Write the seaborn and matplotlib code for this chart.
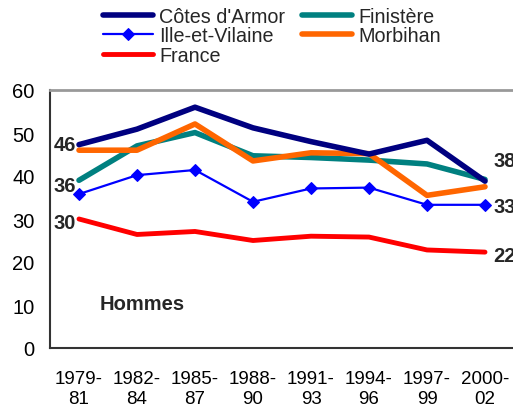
import matplotlib
matplotlib.use("Agg")
import matplotlib.pyplot as plt
import seaborn as sns
import pandas as pd

periods = ["1979-\n81", "1982-\n84", "1985-\n87", "1988-\n90", "1991-\n93", "1994-\n96", "1997-\n99", "2000-\n02"]
cotes = [47.3, 50.9, 56.0, 51.2, 48.0, 45.1, 48.3, 38.8]
finistere = [39.0, 47.0, 50.1, 44.7, 44.3, 43.7, 42.8, 39.2]
ille = [35.8, 40.2, 41.4, 34.0, 37.1, 37.3, 33.3, 33.3]
morbihan = [46.0, 46.0, 52.1, 43.5, 45.4, 45.2, 35.5, 37.5]
france = [30.0, 26.4, 27.1, 25.0, 26.0, 25.8, 22.8, 22.3]

left_labels = ["46", "36", "30"]
left_label_y = [47.4, 37.9, 29.1]
right_labels = ["38", "33", "22"]
right_label_y = [43.5, 32.8, 21.4]

series = {
    "Côtes d'Armor": cotes,
    "Finistère": finistere,
    "Ille-et-Vilaine": ille,
    "Morbihan": morbihan,
    "France": france,
}
styles = {
    "Côtes d'Armor": dict(color="#000080", lw=4.0, marker=None),
    "Finistère": dict(color="#008080", lw=4.0, marker=None),
    "Ille-et-Vilaine": dict(color="#0000FF", lw=1.6, marker="D"),
    "Morbihan": dict(color="#FF6600", lw=4.0, marker=None),
    "France": dict(color="#FF0000", lw=3.5, marker=None),
}

rows = []
for name, vals in series.items():
    for i, v in enumerate(vals):
        rows.append({"serie": name, "x": i, "val": v})
df = pd.DataFrame(rows)

sns.set_style("white")
plt.rcParams["font.family"] = ["Liberation Sans", "DejaVu Sans"]

fig = plt.figure(figsize=(5.13, 4.10), dpi=100)
ax = fig.add_axes([50 / 513, (410 - 349) / 410, 464 / 513, 258 / 410])

handles = {}
for name in ["France", "Ille-et-Vilaine", "Finistère", "Morbihan", "Côtes d'Armor"]:
    st = styles[name]
    sub = df[df.serie == name]
    sns.lineplot(data=sub, x="x", y="val", ax=ax, color=st["color"], linewidth=st["lw"],
                 marker=st["marker"], markersize=6.5 if st["marker"] else 0,
                 markeredgecolor=st["color"], label=name, legend=False)
    handles[name] = ax.lines[-1]

ax.set_xlim(-0.5, len(periods) - 0.5)
ax.set_ylim(0, 60)
ax.set_yticks(range(0, 61, 10))
ax.set_xticks(range(len(periods)))
ax.set_xticklabels(periods, linespacing=1.25)
ax.set_xticks([i - 0.5 for i in range(len(periods) + 1)], minor=True)
ax.tick_params(axis="x", which="major", length=0, pad=16, labelsize=13.5)
ax.tick_params(axis="x", which="minor", length=5, width=1.2, color="#333333", direction="out")
ax.tick_params(axis="y", length=5, width=1.2, color="#333333", direction="out", labelsize=14.5, pad=6)
ax.tick_params(axis="both", colors="#333333", labelcolor="black")
ax.set_xlabel("")
ax.set_ylabel("")
for s in ["left", "bottom"]:
    ax.spines[s].set_color("#333333")
    ax.spines[s].set_linewidth(1.5)
ax.spines["top"].set_color("#999999")
ax.spines["top"].set_linewidth(2)
ax.spines["right"].set_visible(False)

for lab, y in zip(left_labels, left_label_y):
    ax.text(-0.05, y, lab, ha="right", va="center", fontsize=14.5, fontweight="bold")
for lab, y in zip(right_labels, right_label_y):
    ax.text(7.15, y, lab, ha="left", va="center", fontsize=14.5, fontweight="bold", clip_on=False)

ax.text(0.36, 10.3, "Hommes", ha="left", va="center", fontsize=14.5, fontweight="bold")

order = ["Côtes d'Armor", "Ille-et-Vilaine", "France", "Finistère", "Morbihan"]
leg = fig.legend([handles[n] for n in order], order, ncol=2,
                 loc="upper left", bbox_to_anchor=(103 / 513, 1 - 8 / 410),
                 frameon=False, fontsize=14.2, handlelength=2.55, handletextpad=0.3,
                 labelspacing=0.02, columnspacing=0.85, borderaxespad=0, borderpad=0)

fig.savefig("out.png", dpi=100)
